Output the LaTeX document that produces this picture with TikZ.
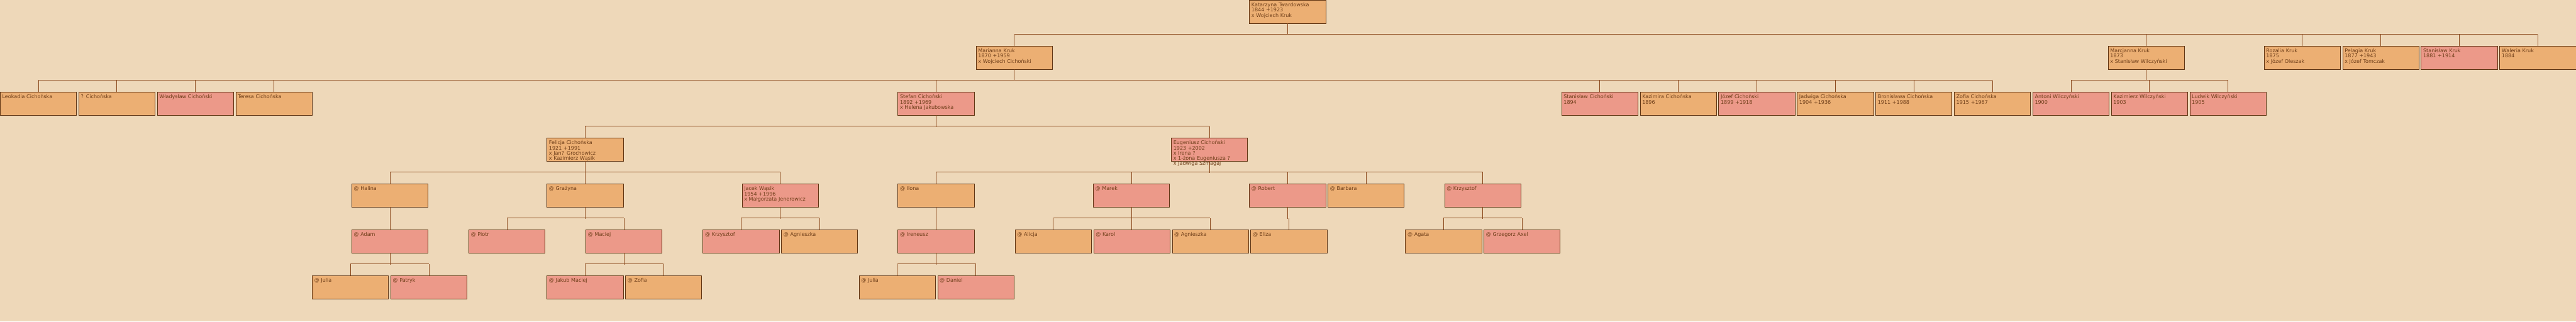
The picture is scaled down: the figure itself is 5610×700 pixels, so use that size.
\documentclass[tikz,border=0pt]{standalone}
\usepackage{fontspec}
\setmainfont{DejaVu Sans}
\usetikzlibrary{positioning}
\definecolor{paper}{RGB}{238,216,185}
\definecolor{femfill}{RGB}{236,175,115}
\definecolor{malefill}{RGB}{236,153,137}
\definecolor{rim}{RGB}{95,52,18}
\definecolor{wirecol}{RGB}{139,74,30}
\definecolor{ink}{RGB}{110,62,25}
\tikzset{x=1pt, y=-1pt,
person/.style={draw=rim, line width=1pt, anchor=north west,
  minimum width=166pt, minimum height=50pt, text width=157pt, align=left,
  inner xsep=4.5pt, inner ysep=4.3pt, text height=10pt, text depth=31.4pt,
  text=ink, font=\fontsize{11}{11.2}\selectfont},
fem/.style={person, fill=femfill},
male/.style={person, fill=malefill},
wire/.style={draw=wirecol, line width=0.9pt}
}
\begin{document}
\begin{tikzpicture}
\fill[paper] (0,0) rectangle (5610,700);
\useasboundingbox (0,0) rectangle (5610,700);
% generation 1
\node[fem] (kt) at (2720.5,0) {Katarzyna Twardowska\\*1844 +1923\\x Wojciech Kruk};
% generation 2
\node[fem] (marianna) at (2125.4,100) {Marianna Kruk\\*1870 +1959\\x Wojciech Cichoński};
\node[fem] (marcjanna) at (4590.6,100) {Marcjanna Kruk\\*1873\\x Stanisław Wilczyński};
\node[fem] (rozalia) at (4930.3,100) {Rozalia Kruk\\*1875\\x Józef Oleszak};
\node[fem, right=4pt of rozalia] (pelagia) {Pelagia Kruk\\*1877 +1943\\x Józef Tomczak};
\node[male, right=4pt of pelagia] (stankruk) {Stanisław Kruk\\*1881 +1914};
\node[fem, right=4pt of stankruk] (waleria) {Waleria Kruk\\*1884};
% generation 3
\node[fem] (leokadia) at (0,200) {Leokadia Cichońska};
\node[fem, right=4pt of leokadia] (qcich) {? Cichońska};
\node[male, right=4pt of qcich] (wladyslaw) {Władysław Cichoński};
\node[fem, right=4pt of wladyslaw] (teresa) {Teresa Cichońska};
\node[male] (stefan) at (1955,200) {Stefan Cichoński\\*1892 +1969\\x Helena Jakubowska};
\node[male] (stanc) at (3400.4,200) {Stanisław Cichoński\\*1894};
\node[fem, right=4pt of stanc] (kazimira) {Kazimira Cichońska\\*1896};
\node[male, right=4pt of kazimira] (jozef) {Józef Cichoński\\*1899 +1918};
\node[fem, right=4pt of jozef] (jadwiga) {Jadwiga Cichońska\\*1904 +1936};
\node[fem, right=4pt of jadwiga] (bronislawa) {Bronisława Cichońska\\*1911 +1988};
\node[fem, right=4pt of bronislawa] (zofiac) {Zofia Cichońska\\*1915 +1967};
\node[male, right=4pt of zofiac] (antoni) {Antoni Wilczyński\\*1900};
\node[male, right=4pt of antoni] (kazimierz) {Kazimierz Wilczyński\\*1903};
\node[male, right=4pt of kazimierz] (ludwik) {Ludwik Wilczyński\\*1905};
% generation 4
\node[fem] (felicja) at (1190.6,300) {Felicja Cichońska\\*1921 +1991\\x Jan? Grochowicz\\x Kazimierz Wąsik};
\node[male] (eugeniusz) at (2550.4,300) {Eugeniusz Cichoński\\*1923 +2002\\x Irena ?\\x 1-żona Eugeniusza ?\\x Jadwiga Szmagaj};
% generation 5
\node[fem] (halina) at (765.6,400) {@ Halina};
\node[fem] (grazyna) at (1190.6,400) {@ Grażyna};
\node[male] (jacek) at (1615.6,400) {Jacek Wąsik\\*1954 +1996\\x Małgorzata Jenerowicz};
\node[fem] (ilona) at (1955,400) {@ Ilona};
\node[male] (marek) at (2380.4,400) {@ Marek};
\node[male] (robert) at (2720.5,400) {@ Robert};
\node[fem, right=4pt of robert] (barbara) {@ Barbara};
\node[male] (krzysztof) at (3145.5,400) {@ Krzysztof};
% generation 6
\node[male] (adam) at (765.6,500) {@ Adam};
\node[male] (piotr) at (1020.5,500) {@ Piotr};
\node[male] (maciej) at (1275.4,500) {@ Maciej};
\node[male] (krzysztofw) at (1530.4,500) {@ Krzysztof};
\node[fem, right=4pt of krzysztofw] (agnieszkaw) {@ Agnieszka};
\node[male] (ireneusz) at (1955,500) {@ Ireneusz};
\node[fem] (alicja) at (2210.3,500) {@ Alicja};
\node[male, right=4pt of alicja] (karol) {@ Karol};
\node[fem, right=4pt of karol] (agnieszkac) {@ Agnieszka};
\node[fem, right=4pt of agnieszkac] (eliza) {@ Eliza};
\node[fem] (agata) at (3060.3,500) {@ Agata};
\node[male, right=4pt of agata] (grzegorz) {@ Grzegorz Axel};
% generation 7
\node[fem] (julia) at (679.5,600) {@ Julia};
\node[male, right=4pt of julia] (patryk) {@ Patryk};
\node[male] (jakub) at (1190.6,600) {@ Jakub Maciej};
\node[fem, right=4pt of jakub] (zofia) {@ Zofia};
\node[fem] (juliac) at (1870.5,600) {@ Julia};
\node[male, right=4pt of juliac] (daniel) {@ Daniel};
% lines
\foreach \p in {kt,marianna,marcjanna,stefan,felicja,eugeniusz,halina,grazyna,jacek,
  ilona,marek,robert,krzysztof,adam,maciej,ireneusz}
  \draw[wire] (\p.south) -- ++(0pt,-25pt);
\foreach \c in {marianna,marcjanna,rozalia,pelagia,stankruk,waleria,
  leokadia,qcich,wladyslaw,teresa,stefan,stanc,kazimira,jozef,jadwiga,bronislawa,zofiac,
  antoni,kazimierz,ludwik,felicja,eugeniusz,halina,grazyna,jacek,ilona,marek,robert,barbara,krzysztof,
  adam,piotr,maciej,krzysztofw,agnieszkaw,ireneusz,alicja,karol,agnieszkac,eliza,agata,grzegorz,
  julia,patryk,jakub,zofia,juliac,daniel}
  \draw[wire] (\c.north) -- ++(0pt,25pt);
\foreach \a/\b in {marianna/waleria,leokadia/zofiac,antoni/ludwik,felicja/eugeniusz,
  halina/jacek,ilona/krzysztof,piotr/maciej,krzysztofw/agnieszkaw,alicja/agnieszkac,
  agata/grzegorz,julia/patryk,jakub/zofia,juliac/daniel}
  \draw[wire] ([yshift=25pt]\a.north) -- ([yshift=25pt]\b.north);
\end{tikzpicture}
\end{document}
